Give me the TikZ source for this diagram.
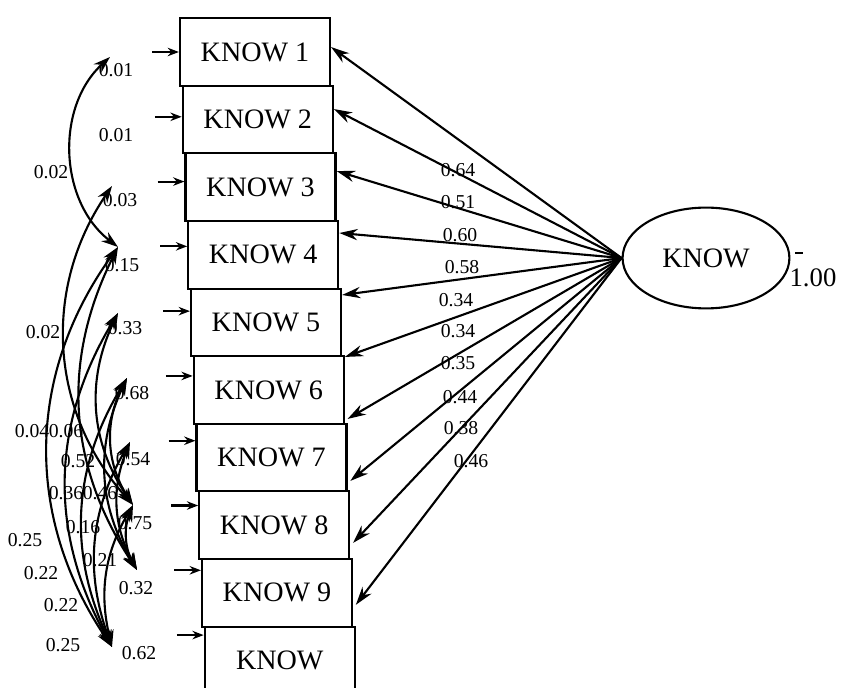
\documentclass[tikz,border=0pt]{standalone}
\usepackage{fontspec}
\setmainfont{Liberation Serif}
\usetikzlibrary{arrows.meta,shapes.geometric,positioning}
\tikzset{indicator/.style={draw, line width=1.5pt, minimum width=3.75cm, minimum height=1.69cm,
                           inner sep=0pt, font=\fontsize{20}{22}\selectfont},
        latent/.style={draw, ellipse, line width=1.5pt, minimum width=4.17cm, minimum height=2.52cm,
                       inner sep=0pt, font=\fontsize{20}{22}\selectfont},
        numlabel/.style={inner sep=0pt, font=\fontsize{14}{16}\selectfont},
        varlabel/.style={inner sep=0pt, font=\fontsize{19}{21}\selectfont},
        loading/.style={line width=1.5pt, -{Stealth[length=13pt,width=8pt]}},
        errarrow/.style={line width=1.5pt, -{Stealth[length=8pt,width=6pt]}},
        covar/.style={line width=1.5pt, {Stealth[length=12pt,width=8pt]}-{Stealth[length=12pt,width=8pt]}},
        }

\begin{document}
\begin{tikzpicture}[x=0.025cm,y=-0.025cm]
    \useasboundingbox (0,0) rectangle (842,688);

    % observed items
    \foreach \i/\t in {1/KNOW 1,2/KNOW 2,3/KNOW 3,4/KNOW 4,5/KNOW 5,6/KNOW 6,7/KNOW 7,8/KNOW 8,9/KNOW 9,10/KNOW}
        \node[indicator] (k\i) at ({255+2.75*(\i-1)},{52+67.6*(\i-1)}) {\t};

    % latent factor
    \node[latent] (know) at (706,258) {KNOW};
    \node[varlabel] (var) at (813,278) {1.00};
    \coordinate (v1) at (795,253);
    \coordinate (v2) at (803,253);
    \draw[line width=0.8pt] (v1) -- (v2);

    % loadings
    \foreach \i in {1,...,10}
        \draw[loading] (know.west) -- ([yshift={(3.5+4*(\i-1))*1pt}]k\i.east);
    \foreach \v/\x/\y [count=\n] in {0.64/458/170,0.51/458/202,0.60/460/235,0.58/462/267,0.34/456/300,
                                     0.34/458/331,0.35/458/363,0.44/460/397,0.38/461/428,0.46/471/461}
        \node[numlabel] (l\n) at (\x,\y) {\v};

    % error terms
    \foreach \i in {1,...,10} {
        \coordinate (d\i) at ([xshift=-19pt,yshift={2*(\i-1)*1pt}]k\i.west);
        \draw[errarrow] (d\i) -- (d\i -| k\i.west);
    }
    \foreach \v/\x/\y [count=\n] in {0.01/116/70,0.01/116/135,0.03/120/200,0.15/122/265,0.33/125/328,
                                     0.68/132/393,0.54/133/459,0.75/135/523,0.32/136/588,0.62/139/653}
        \node[numlabel] (e\n) at (\x,\y) {\v};

    % error covariances
    \foreach \i/\x/\y in {1/110/57,3/112/186,4/118/247,5/118/313,6/127/378,
                          7/130/442,8/133/505,9/137/570,10/112/647}
        \coordinate (c\i) at (\x,\y);
    \foreach \a/\b/\bend in {1/4/50,3/8/38,4/10/35,4/9/30,5/8/30,5/10/30,6/8/30,
                             6/9/28,6/10/28,7/9/25,7/10/25,8/9/25,8/10/22}
        \draw[covar] (c\a) to[bend right=\bend] (c\b);
    \foreach \v/\x/\y [count=\n] in {0.02/51/172,0.02/43/332,0.04/32/431,0.06/66/431,0.52/78/461,
                                     0.36/66/493,0.46/100/493,0.16/83/527,0.25/25/540,0.21/100/560,
                                     0.22/41/573,0.22/61/605,0.25/63/645}
        \node[numlabel] (r\n) at (\x,\y) {\v};
\end{tikzpicture}
\end{document}
